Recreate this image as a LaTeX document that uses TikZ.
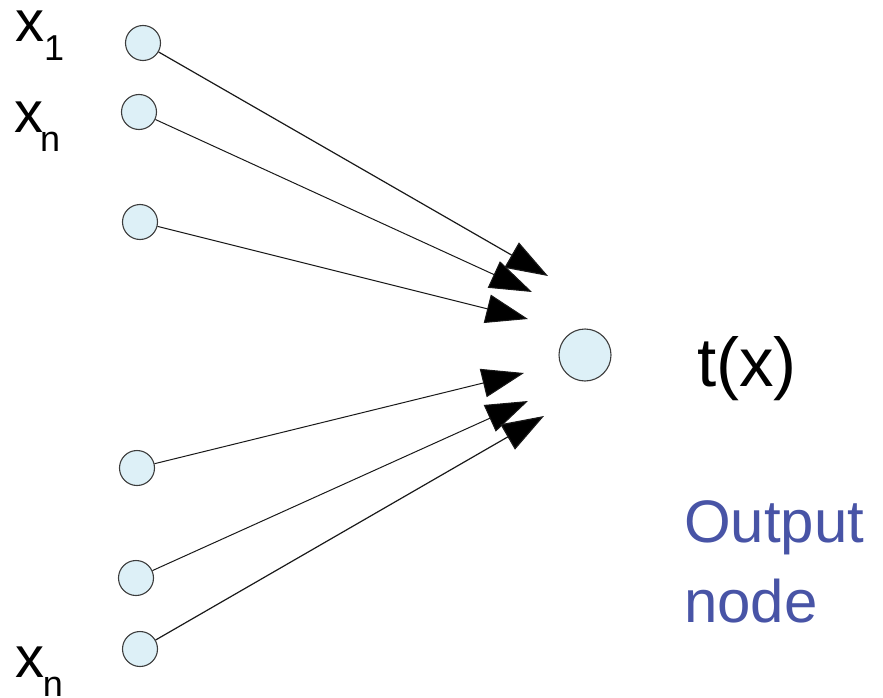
\documentclass[tikz,border=0pt]{standalone}
\usepackage{fontspec}
\setmainfont{Liberation Sans}
\usetikzlibrary{arrows.meta}
\definecolor{nodefill}{RGB}{221,240,247}
\definecolor{nodeedge}{RGB}{60,60,60}
\definecolor{outblue}{RGB}{72,84,166}
\tikzset{
  inp/.style={circle, draw=nodeedge, line width=1.1pt, fill=nodefill, minimum size=35pt, inner sep=0pt},
  outp/.style={circle, draw=nodeedge, line width=1.1pt, fill=nodefill, minimum size=52pt, inner sep=0pt},
  conn/.style={line width=1pt, draw=black!90, -{Triangle[length=42pt, width=29pt, fill=black]}},
  lbl/.style={anchor=base west, inner sep=0pt, outer sep=0pt},
  bluelbl/.style={lbl, text=outblue, font=\fontsize{60}{62}\selectfont},
}
\newcommand{\xlab}[2]{{\fontsize{58}{60}\selectfont x}\kern#2\raisebox{-19pt}{\fontsize{36}{40}\selectfont #1}}
\begin{document}
\begin{tikzpicture}[x=1pt,y=-1pt]
\useasboundingbox (0,0) rectangle (883,698);
% input nodes
\node[inp] (n1) at (143,43) {};
\node[inp] (n2) at (139,112) {};
\node[inp] (n3) at (140,222) {};
\node[inp] (n4) at (137,468) {};
\node[inp] (n5) at (136,578) {};
\node[inp] (n6) at (140,649) {};
% output node
\node[outp] (out) at (585,355) {};
% arrow tips
\coordinate (t1) at (548,276);
\coordinate (t2) at (532,292);
\coordinate (t3) at (528,319);
\coordinate (t4) at (524,373);
\coordinate (t5) at (528,401);
\coordinate (t6) at (544,416);
% connectors
\draw[conn, line width=1.2pt] (n1) -- (t1);
\draw[conn] (n2) -- (t2);
\draw[conn] (n3) -- (t3);
\draw[conn] (n4) -- (t4);
\draw[conn] (n5) -- (t5);
\draw[conn, line width=1.2pt] (n6) -- (t6);
% labels
\node[lbl] (lx1) at (15,42) {\xlab{1}{0pt}};
\node[lbl] (lx2) at (14,132) {\xlab{n}{-3pt}};
\node[lbl] (lx3) at (15,677) {\xlab{n}{-1pt}};
\node[lbl] (lt) at (697,386) {\fontsize{69}{72}\selectfont t(x)};
\node[bluelbl] (lo1) at (684,542) {Output};
\node[bluelbl] (lo2) at (684,622) {node};
\end{tikzpicture}
\end{document}
